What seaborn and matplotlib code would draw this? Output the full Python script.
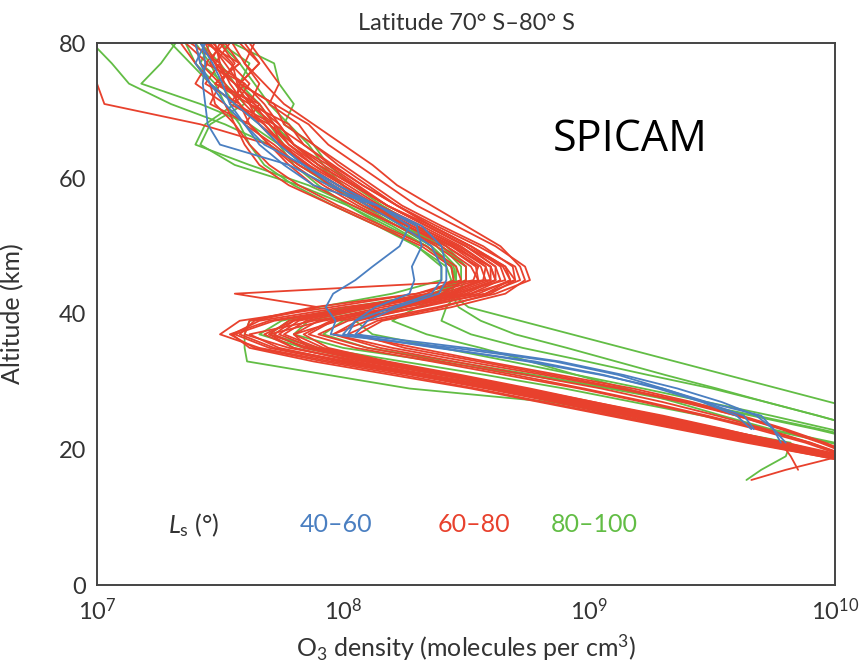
import numpy as np
import pandas as pd
import matplotlib
matplotlib.use("Agg")
import matplotlib.pyplot as plt
import seaborn as sns
from matplotlib.ticker import LogLocator, MultipleLocator, NullFormatter

# Altitude grid (km)
ALT = [80, 77, 74, 71, 68, 65, 62, 59, 56, 53, 50, 47, 45, 43, 41, 39, 37, 35,
       33, 31, 29, 27, 25, 23, 21, 19, 17, 15.5]

# log10 O3 density (molecules per cm3); None = no data
red_ls60_80 = {
    "R01": [7.48,7.50,7.54,7.60,7.68,7.75,7.86,8.00,8.13,8.30,8.46,8.58,8.57,8.40,8.12,7.85,7.76,7.90,8.15,8.45,8.72,8.98,9.25,9.50,9.75,10.00,10.25],
    "R02": [7.60,7.66,7.58,7.72,7.86,7.94,8.06,8.18,8.30,8.46,8.62,8.74,8.76,8.62,8.38,8.10,7.96,8.20,8.50,8.82,9.12,9.38,9.60,9.78,9.94,10.08,10.30],
    "R03": [7.36,7.45,7.40,7.52,7.56,7.62,7.70,7.82,7.98,8.16,8.34,8.46,8.48,8.30,7.95,7.58,7.50,7.66,7.95,8.28,8.58,8.86,9.12,9.40,9.68,9.96,10.22],
    "R04": [7.52,7.44,7.60,7.54,7.70,7.80,7.92,8.05,8.18,8.36,8.52,8.66,8.68,8.55,8.25,7.92,7.70,7.80,8.05,8.36,8.66,8.94,9.20,9.46,9.72,9.98,10.24],
    "R05": [7.44,7.58,7.48,7.66,7.60,7.72,7.82,7.96,8.10,8.26,8.42,8.55,8.53,8.30,7.88,7.62,7.60,7.78,8.08,8.40,8.68,8.95,9.22,9.48,9.75,10.02,10.28],
    "R06": [7.55,7.60,7.66,7.62,7.78,7.84,7.95,8.08,8.22,8.38,8.55,8.70,8.72,8.58,8.30,7.98,7.80,7.86,8.12,8.42,8.70,8.96,9.22,9.48,9.74,9.99,10.25],
    "R07": [7.40,7.42,7.50,7.46,7.62,7.70,7.80,7.92,8.06,8.22,8.38,8.50,8.50,8.40,8.10,7.72,7.56,7.70,7.98,8.30,8.60,8.88,9.15,9.42,9.70,9.98,10.25],
    "R08": [7.58,7.66,7.58,7.72,7.76,7.88,8.00,8.12,8.24,8.40,8.57,8.69,8.70,8.52,8.22,7.96,7.86,8.05,8.36,8.66,8.96,9.22,9.46,9.68,9.88,10.04,10.28],
    "R09": [7.46,7.52,7.58,7.56,7.68,7.76,7.84,7.98,8.12,8.28,8.44,8.60,8.62,8.48,8.20,7.95,7.84,7.94,8.18,8.48,8.76,9.02,9.28,9.52,9.78,10.02,10.26],
    "R10": [7.50,7.56,7.50,7.64,7.74,7.80,7.94,8.06,8.18,8.34,8.50,8.62,8.64,8.52,8.30,8.06,7.96,8.15,8.45,8.75,9.05,9.30,9.52,9.72,9.90,10.05,10.30],
    "R11": [7.38,7.50,7.44,7.58,7.62,7.70,7.78,7.88,8.04,8.22,8.40,8.52,8.55,8.44,8.00,7.66,7.55,7.62,7.88,8.20,8.52,8.80,9.08,9.36,9.64,9.94,10.22],
    "R12": [7.62,7.68,7.74,7.70,7.82,7.88,7.98,8.10,8.22,8.36,8.52,8.64,8.66,8.45,8.05,7.80,7.72,7.84,8.10,8.40,8.70,8.98,9.25,9.52,9.80,10.05,10.30],
    "R13": [7.45,7.54,7.62,7.56,7.72,7.84,7.96,8.08,8.22,8.36,8.52,8.66,8.70,8.60,8.40,8.14,8.02,8.30,8.58,8.88,9.18,9.42,9.62,9.80,9.96,10.10,10.30],
    "R14": [7.50,7.46,7.56,7.66,7.72,7.74,7.86,7.94,8.08,8.26,8.44,8.56,8.58,8.42,8.08,7.80,7.68,7.80,8.04,8.34,8.64,8.92,9.18,9.44,9.72,10.00,10.26],
    "R15": [7.42,7.48,7.52,7.58,7.66,7.74,7.85,7.98,8.12,8.28,8.45,8.58,8.60,7.56,7.90,7.64,7.58,7.72,8.02,8.34,8.62,8.90,9.16,9.44,9.72,10.00,10.26],
    "R16": [None,6.95,7.00,7.03,7.42,7.70,7.82,7.96,8.10,8.26,8.42,8.54,8.55,8.36,8.05,7.78,7.70,7.86,8.12,8.42,8.70,8.96,9.22,9.48,9.76,10.00,10.26],
    "R17": [7.54,7.48,7.60,7.68,7.74,7.80,7.90,8.04,8.18,8.34,8.50,8.62,8.62,8.46,8.16,7.90,7.80,7.92,8.16,8.46,8.74,9.02,9.30,9.55,9.78,9.82,9.85],
    "R18": [7.47,7.55,7.57,7.64,7.70,7.78,7.88,8.02,8.15,8.32,8.48,8.60,8.60,8.44,8.10,7.82,7.74,7.88,8.14,8.44,8.72,9.00,9.28,9.54,9.80,10.02,9.80,9.66],
    "R19": [7.34,7.40,7.46,7.48,7.56,7.60,7.66,7.78,7.96,8.14,8.32,8.44,8.45,8.34,8.05,7.70,7.54,7.64,7.92,8.24,8.54,8.82,9.10,9.38,9.66,9.94,10.22],
    "R20": [7.64,7.60,7.68,7.76,7.88,8.00,8.12,8.22,8.36,8.50,8.64,8.72,8.74,8.66,8.44,8.16,8.06,8.25,8.55,8.85,9.14,9.40,9.60,9.79,9.95,10.10,10.30],
    "R21": [7.52,7.58,7.48,7.62,7.66,7.76,7.88,8.00,8.14,8.30,8.47,8.60,8.62,8.50,8.22,7.88,7.62,7.74,8.00,8.32,8.62,8.90,9.18,9.46,9.74,10.00,10.26],
    "R22": [7.44,7.48,7.56,7.62,7.72,7.78,7.90,8.04,8.18,8.34,8.50,8.65,8.68,8.58,8.32,8.02,7.90,8.10,8.40,8.70,8.98,9.24,9.48,9.70,9.90,10.06,10.28],
}

green_ls80_100 = {
    "G01": [6.98,7.06,7.13,7.30,7.52,7.70,7.82,7.95,8.10,8.24,8.36,8.44,8.45,8.44,8.51,8.72,8.93,9.14,9.35,9.56,9.77,9.98,10.19],
    "G02": [7.32,7.26,7.18,7.42,7.62,7.74,7.84,7.98,8.12,8.26,8.38,8.46,8.46,8.44,8.47,8.56,8.70,8.91,9.11,9.31,9.52,9.72,9.93,10.13],
    "G03": [7.55,7.72,7.74,7.80,7.76,7.88,7.94,8.04,8.16,8.30,8.42,8.50,8.50,8.46,8.42,8.40,8.52,8.73,8.99,9.24,9.50,9.72,9.93,10.13],
    "G04": [7.40,7.46,7.50,7.56,7.44,7.40,7.62,7.86,8.04,8.20,8.34,8.44,8.46,8.42,8.30,8.20,8.34,8.56,8.76,8.95,9.15,9.35,9.54,9.74,10.00,10.20],
    "G05": [7.30,7.38,7.46,7.56,7.66,7.74,7.80,7.90,8.02,8.16,8.30,8.40,8.40,8.20,7.90,7.62,7.60,7.60,7.61,7.94,8.27,8.85,9.15,9.42,9.70,9.98,10.25],
    "G06": [7.50,7.58,7.64,7.70,7.78,7.86,7.92,8.00,8.10,8.24,8.40,8.50,8.50,8.36,8.02,7.75,7.66,7.84,8.10,8.40,8.68,8.96,9.24,9.52,9.82,9.80,9.70,9.64],
    "G07": [7.42,7.50,7.56,7.62,7.70,7.76,7.84,7.94,8.08,8.22,8.36,8.45,8.46,8.38,8.12,7.86,7.80,8.00,8.38,8.75,9.08,9.38,9.66,9.92,10.15],
    "G08": [7.46,7.42,7.52,7.60,7.46,7.42,7.56,7.82,8.02,8.18,8.34,8.44,8.46,8.40,8.25,8.05,8.12,8.40,8.68,8.95,9.22,9.48,9.74,9.98,10.20],
    "G09": [7.36,7.40,7.48,7.52,7.58,7.62,7.68,7.80,7.96,8.14,8.30,8.42,8.44,8.38,8.10,7.78,7.70,7.90,8.24,8.58,8.90,9.18,9.46,9.72,9.98,10.20],
    "G10": [7.50,7.62,7.58,7.66,7.72,7.80,7.90,8.00,8.12,8.26,8.40,8.48,8.48,8.40,8.22,8.00,7.92,8.10,8.44,8.78,9.10,9.40,9.68,9.94,10.18],
}

blue_ls40_60 = {
    "B01": [7.43,7.44,7.43,7.44,7.45,7.50,7.78,7.94,8.14,8.27,8.23,8.12,8.05,7.96,7.93,7.97,7.95,8.45,8.86,9.12,9.30,9.47,9.63,9.67],
    "B02": [7.40,7.42,7.46,7.52,7.60,7.66,7.76,7.88,8.14,8.30,8.32,8.28,8.29,8.27,8.13,8.05,8.00,8.40,8.75,9.05,9.30,9.48,9.70,9.75,9.78],
    "B03": [7.44,7.40,7.46,7.56,7.66,7.74,7.84,7.98,8.14,8.32,8.40,8.42,8.42,8.39,8.22,8.10,8.05,8.50,8.88,9.14,9.36,9.54,9.68,9.75,9.80],
    "B04": [7.42,7.47,7.51,7.54,7.60,7.68,7.84,7.96,8.10,8.24,8.36,8.40,8.40,8.36,8.20,8.05,8.02,8.38,8.78,9.06,9.28,9.46,9.60,9.66],
}

SEASONS = ["80\u2013100", "60\u201380", "40\u201360"]
COLORS = {"40\u201360": "#4a7fc1", "60\u201380": "#e8412d", "80\u2013100": "#62bd45"}

rows = []
for season, profs in zip(SEASONS, [green_ls80_100, red_ls60_80, blue_ls40_60]):
    for name, vals in profs.items():
        for alt, v in zip(ALT, vals):
            if v is not None:
                rows.append({"season": season, "profile": name, "alt": alt,
                             "density": 10.0 ** v})
df = pd.DataFrame(rows)

sns.set_style("white")
plt.rcParams["font.family"] = ["Lato", "DejaVu Sans"]
plt.rcParams["mathtext.fontset"] = "custom"
plt.rcParams["mathtext.rm"] = "Lato"
plt.rcParams["mathtext.it"] = "Lato:italic"

fig = plt.figure(figsize=(8.59, 6.68), dpi=100)
ax = fig.add_axes([97 / 859, 1 - 585 / 668, 738 / 859, 542 / 668])

sns.lineplot(data=df, x="density", y="alt", hue="season", units="profile",
             estimator=None, sort=False, hue_order=SEASONS, palette=COLORS,
             linewidth=1.3, legend=False, ax=ax)

ax.set_xscale("log")
ax.set_xlim(1e7, 1e10)
ax.set_ylim(0, 80)

ax.xaxis.set_major_locator(LogLocator(base=10, numticks=10))
ax.xaxis.set_minor_locator(LogLocator(base=10, subs=np.arange(2, 10), numticks=10))
ax.xaxis.set_minor_formatter(NullFormatter())
ax.yaxis.set_major_locator(MultipleLocator(20))
ax.yaxis.set_minor_locator(MultipleLocator(10))

for sp in ax.spines.values():
    sp.set_color("#444444")
    sp.set_linewidth(1.4)

ax.tick_params(axis="x", which="both", direction="in", length=10, width=1.2,
               color="#444444", labelsize=17, labelcolor="#333333", pad=9,
               top=False)
ax.tick_params(axis="y", which="major", direction="in", length=22, width=1.2,
               color="#444444", labelsize=17, labelcolor="#333333", pad=8,
               right=False)
ax.tick_params(axis="y", which="minor", direction="in", length=12, width=1.2,
               color="#444444", right=False)

ax.set_xlabel("O$_3$ density (molecules per cm$^3$)", fontsize=18,
              color="#333333", labelpad=6)
ax.set_ylabel("Altitude (km)", fontsize=18, color="#333333")
ax.yaxis.set_label_coords(-0.098, 0.5)
ax.set_title("Latitude 70\u00b0 S\u201380\u00b0 S", fontsize=17, color="#333333",
             pad=9)

ax.text(0.618, 0.821, "SPICAM", transform=ax.transAxes, fontsize=31,
        color="black", ha="left", va="center", family=["Open Sans", "DejaVu Sans"])

ly = 0.111
ax.text(0.096, ly, "$L_{\\mathrm{s}}$ (\u00b0)", transform=ax.transAxes,
        fontsize=18, color="#333333", ha="left", va="center")
ax.text(0.275, ly, "40\u201360", transform=ax.transAxes, fontsize=18,
        color=COLORS["40\u201360"], ha="left", va="center")
ax.text(0.461, ly, "60\u201380", transform=ax.transAxes, fontsize=18,
        color=COLORS["60\u201380"], ha="left", va="center")
ax.text(0.615, ly, "80\u2013100", transform=ax.transAxes, fontsize=18,
        color=COLORS["80\u2013100"], ha="left", va="center")

fig.savefig("out.png", dpi=100)
